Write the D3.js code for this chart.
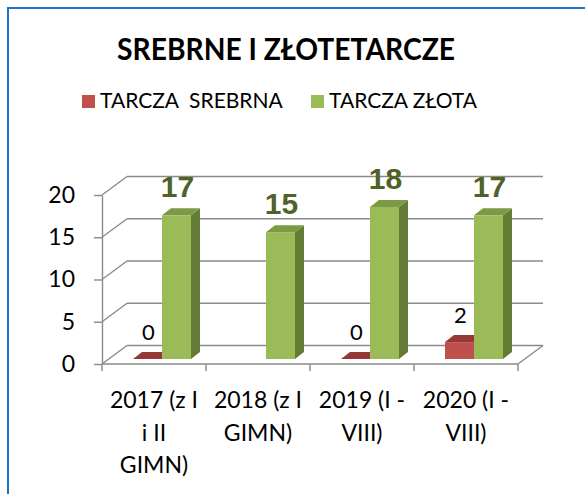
<!DOCTYPE html>
<html>
<head>
<meta charset="utf-8">
<script src="https://cdn.jsdelivr.net/npm/d3@7"></script>
<style>
  body { margin: 0; background: #fff; }
  svg text { font-family: Lato, "Open Sans", sans-serif; }
</style>
</head>
<body>
<svg id="chart" width="585" height="494"></svg>
<script>
// data
const categories = ["2017 (z I i II GIMN)", "2018 (z I GIMN)", "2019 (I - VIII)", "2020 (I - VIII)"];
const categoryLines = [["2017 (z I", "i II", "GIMN)"], ["2018 (z I", "GIMN)"], ["2019 (I -", "VIII)"], ["2020 (I -", "VIII)"]];
const silverValues = [0, null, 0, 2];
const goldValues = [17, 15, 18, 17];
const seriesNames = ["TARCZA  SREBRNA", "TARCZA ZŁOTA"];
const yTicks = [0, 5, 10, 15, 20];

var svg = d3.select("#chart");

// blue frame
svg.append("rect")
    .attr("x", 8).attr("y", 8)
    .attr("width", 600).attr("height", 520)
    .attr("fill", "none")
    .attr("stroke", "#1b74c8")
    .attr("stroke-width", 2);

// title
svg.append("text")
    .attr("x", 286).attr("y", 60)
    .attr("text-anchor", "middle")
    .attr("textLength", 338)
    .attr("lengthAdjust", "spacingAndGlyphs")
    .style("font-size", "31px")
    .style("font-weight", "bold")
    .text("SREBRNE I ZŁOTETARCZE");

// legend
var legendColors = ["#c0504d", "#9bbb59"];
var legendX = [82, 311];
seriesNames.forEach(function (name, i) {
    svg.append("rect")
        .attr("x", legendX[i]).attr("y", 95)
        .attr("width", 13).attr("height", 13)
        .attr("fill", legendColors[i]);
    svg.append("text")
        .attr("x", legendX[i] + 18).attr("y", 108)
        .style("font-size", "21px")
        .style("white-space", "pre")
        .attr("xml:space", "preserve")
        .text(name);
});

// scales (front plane of the 3D box)
var x = d3.scaleBand().domain(categories).range([102, 518]);
var y = d3.scaleLinear().domain([0, 20]).range([364, 195]);
var depth = { dx: 25, dy: -18.5 };      // wall depth
var barOff = { dx: 7, dy: -5 };         // bars sit a bit behind the front
var barDepth = { dx: 9, dy: -7 };
var barW = 29;
var gridColor = "#8a8a8a";

var grid = svg.append("g");
// back wall and side wall lines
yTicks.forEach(function (t) {
    grid.append("line")
        .attr("x1", x.range()[0]).attr("y1", y(t))
        .attr("x2", x.range()[0] + depth.dx).attr("y2", y(t) + depth.dy)
        .attr("stroke", gridColor).attr("stroke-width", 1.4);
    grid.append("line")
        .attr("x1", x.range()[0] + depth.dx).attr("y1", y(t) + depth.dy)
        .attr("x2", x.range()[1] + depth.dx).attr("y2", y(t) + depth.dy)
        .attr("stroke", gridColor).attr("stroke-width", 1.4);
});
// floor right edge
grid.append("line")
    .attr("x1", x.range()[1]).attr("y1", y(0))
    .attr("x2", x.range()[1] + depth.dx).attr("y2", y(0) + depth.dy)
    .attr("stroke", gridColor).attr("stroke-width", 1.4);

// y axis
var yAxis = svg.append("g")
    .attr("transform", "translate(" + x.range()[0] + ",0)")
    .call(d3.axisLeft(y).tickValues(yTicks).tickSize(8).tickSizeOuter(0).tickPadding(19));
yAxis.select(".domain").attr("stroke", gridColor).attr("stroke-width", 1.4);
yAxis.selectAll(".tick line").attr("stroke", gridColor).attr("stroke-width", 1.4);
yAxis.selectAll(".tick text")
    .attr("fill", "#000")
    .style("font-size", "23px")
    .style("font-family", "Lato, 'Open Sans', sans-serif");

// x axis front line and ticks at band edges
svg.append("line")
    .attr("x1", x.range()[0]).attr("y1", y(0))
    .attr("x2", x.range()[1]).attr("y2", y(0))
    .attr("stroke", gridColor).attr("stroke-width", 1.4);
var edges = categories.map(c => x(c)).concat([x.range()[1]]);
svg.selectAll(".xtick")
    .data(edges)
    .enter().append("line")
    .attr("class", "xtick")
    .attr("x1", d => d).attr("x2", d => d)
    .attr("y1", y(0)).attr("y2", y(0) + 7)
    .attr("stroke", gridColor).attr("stroke-width", 1.4);

// category labels
categories.forEach(function (c, i) {
    var t = svg.append("text")
        .attr("text-anchor", "middle")
        .style("font-size", "23px");
    categoryLines[i].forEach(function (line, j) {
        t.append("tspan")
            .attr("x", x(c) + x.bandwidth() / 2)
            .attr("y", 408 + j * 32.5)
            .text(line);
    });
});

// 3D bars
function drawBar(x0, v, colors) {
    var yb = y(0) + barOff.dy;
    var yt = y(v) + barOff.dy;
    var g = svg.append("g");
    // side face
    g.append("path")
        .attr("d", "M" + (x0 + barW) + "," + yb +
            "L" + (x0 + barW + barDepth.dx) + "," + (yb + barDepth.dy) +
            "L" + (x0 + barW + barDepth.dx) + "," + (yt + barDepth.dy) +
            "L" + (x0 + barW) + "," + yt + "Z")
        .attr("fill", colors.side);
    // front face
    g.append("rect")
        .attr("x", x0).attr("y", yt)
        .attr("width", barW).attr("height", yb - yt)
        .attr("fill", colors.front);
    // top face
    g.append("path")
        .attr("d", "M" + x0 + "," + yt +
            "L" + (x0 + barDepth.dx) + "," + (yt + barDepth.dy) +
            "L" + (x0 + barW + barDepth.dx) + "," + (yt + barDepth.dy) +
            "L" + (x0 + barW) + "," + yt + "Z")
        .attr("fill", colors.top);
}

var silverColors = { front: "#c0504d", top: "#963835", side: "#8a3431" };
var goldColors = { front: "#9bbb59", top: "#7b9a44", side: "#647c36" };

categories.forEach(function (c, i) {
    var groupStart = x(c) + x.bandwidth() / 2 - barW + barOff.dx + 1;
    var sv = silverValues[i];
    var gv = goldValues[i];
    if (sv !== null) {
        drawBar(groupStart, sv, silverColors);
        svg.append("text")
            .attr("x", groupStart + barW / 2 + 1)
            .attr("y", y(sv) + barOff.dy + barDepth.dy - 12)
            .attr("text-anchor", "middle")
            .style("font-size", "22px")
            .text(sv);
    }
    drawBar(groupStart + barW, gv, goldColors);
    svg.append("text")
        .attr("x", groupStart + barW * 1.5 + 1)
        .attr("y", y(gv) + barOff.dy + barDepth.dy - 11)
        .attr("text-anchor", "middle")
        .attr("fill", "#4f6228")
        .style("font-size", "30px")
        .style("font-weight", "bold")
        .style("font-family", "'Liberation Sans', Arial, sans-serif")
        .text(gv);
});
</script>
</body>
</html>
